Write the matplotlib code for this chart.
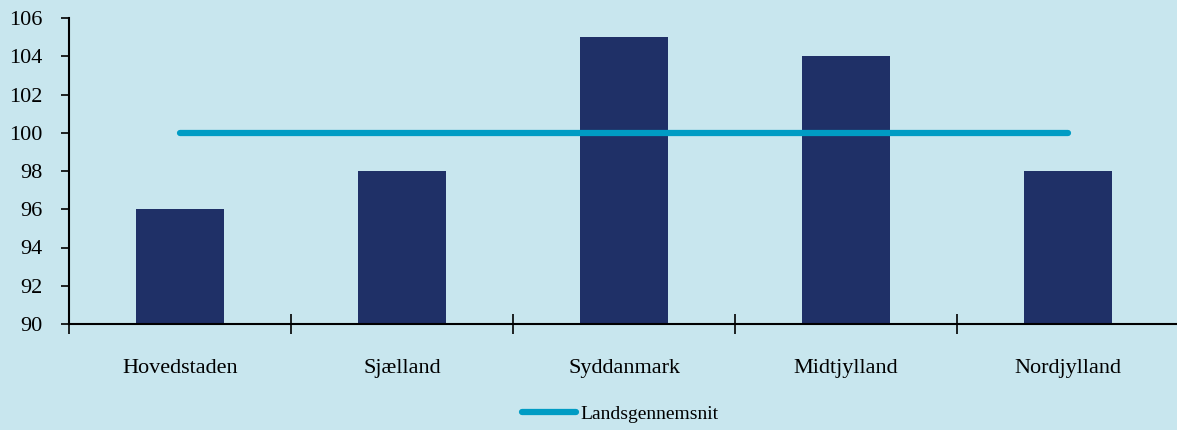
import matplotlib
matplotlib.use('Agg')
import numpy as np
import matplotlib.pyplot as plt

plt.rcParams['font.family'] = ['Liberation Serif', 'DejaVu Serif']

regions = ['Hovedstaden', 'Sjælland', 'Syddanmark', 'Midtjylland', 'Nordjylland']
index = [96, 98, 105, 104, 98]
avg = [100, 100, 100, 100, 100]

bg = '#C8E6EE'
fig = plt.figure(figsize=(11.77, 4.30), dpi=100, facecolor=bg)
ax = fig.add_axes([69/1177, 1-324/430, 1110/1177, (324-18)/430])
ax.set_facecolor(bg)

x = np.arange(len(regions))
ax.bar(x, index, width=0.40, bottom=0, color='#1F3067', zorder=2)
ax.plot(x, avg, color='#009CC4', lw=4.5, solid_capstyle='round', zorder=3,
        label='Landsgennemsnit')

ax.set_ylim(90, 106)
ax.set_yticks(np.arange(90, 107, 2))
ax.set_xlim(-0.5, len(regions) - 0.5)
ax.set_xticks(np.arange(-0.5, len(regions), 1.0))
ax.set_xticklabels([])
ax.set_xticks(x, minor=True)
ax.set_xticklabels(regions, minor=True)
ax.tick_params(axis='x', which='major', direction='inout', length=14, width=1.2)
ax.tick_params(axis='x', which='minor', length=0, pad=25, labelsize=16)
ax.tick_params(axis='y', direction='out', length=6, width=1.2, pad=13, labelsize=16)

for s in ['top', 'right']:
    ax.spines[s].set_visible(False)
for s in ['left', 'bottom']:
    ax.spines[s].set_linewidth(1.5)
ax.spines['bottom'].set_zorder(4)

leg = fig.legend(loc='center', bbox_to_anchor=(620/1177, 1-414/430), frameon=False,
                 fontsize=14, handlelength=2.8, handletextpad=0.2)

fig.savefig('out.png', dpi=100, facecolor=bg)
